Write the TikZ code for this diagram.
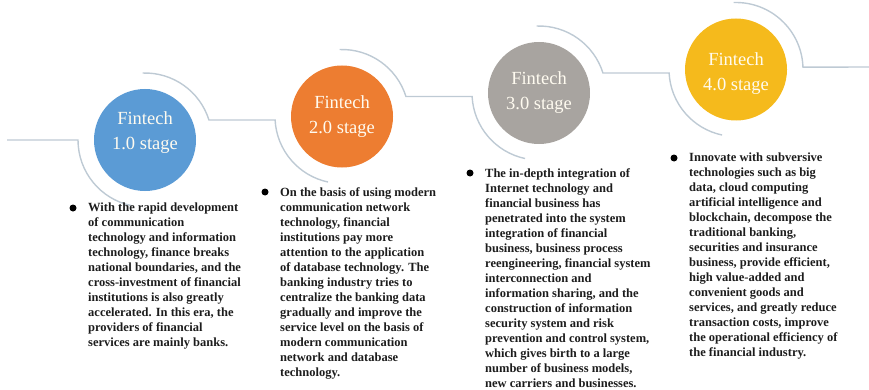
\documentclass[tikz,border=0pt]{standalone}
\usepackage{fontspec}
\setmainfont{Liberation Serif}
\usetikzlibrary{calc}
\definecolor{stblue}{RGB}{91,155,213}
\definecolor{storange}{RGB}{237,125,49}
\definecolor{stgray}{RGB}{168,164,160}
\definecolor{styellow}{RGB}{245,186,28}
\definecolor{trackcol}{RGB}{190,202,212}
\definecolor{txtcol}{RGB}{28,28,28}
\definecolor{captcol}{RGB}{255,251,240}
\begin{document}
\begin{tikzpicture}[x=1pt,y=1pt,
    stage/.style={circle,minimum size=102pt,inner sep=0pt,align=center,
      text=captcol,font=\fontsize{18.5}{25}\selectfont},
    track/.style={draw=trackcol,line width=1.4pt},
    desc/.style={anchor=north west,inner sep=0pt,align=left,text=txtcol,
      font=\fontsize{12.5}{15}\selectfont\bfseries},
    bulletdot/.style={circle,fill=black,inner sep=0pt,minimum size=7pt}]
  \useasboundingbox (0,0) rectangle (869,389);
  % the four stages
  \node[stage,fill=stblue]   (st1) at (145,249)   {Fintech\\1.0 stage\\[-6pt]};
  \node[stage,fill=storange] (st2) at (342,272.5) {Fintech\\2.0 stage};
  \node[stage,fill=stgray]   (st3) at (539,296)   {Fintech\\3.0 stage};
  \node[stage,fill=styellow] (st4) at (736,319.5) {\\[-5pt]Fintech\\4.0 stage};
  % track through the stages
  \coordinate (tin) at (7,249);
  \coordinate (tout) at (869,322);
  \draw[track] (tin) -- ($(st1.center)+(180:67)$) arc[start angle=180,end angle=258,radius=67];
  \foreach \a/\b in {st1/st2,st2/st3,st3/st4}
    \draw[track] ($(\a.center)+(92:67)$) arc[start angle=92,end angle=17.4,radius=67]
      -- ($(\b.center)+(183:67)$) arc[start angle=183,end angle=258,radius=67];
  \draw[track] ($(st4.center)+(92:67)$) arc[start angle=92,end angle=2,radius=67] -- (tout);
  % descriptions
  \node[desc] (desc1) at (88,186) {With the rapid development\\of communication\\technology and information\\technology, finance breaks\\national boundaries, and the\\cross-investment of financial\\institutions is also greatly\\accelerated. In this era, the\\providers of financial\\services are mainly banks.};
  \node[desc] (desc2) at (280,202) {On the basis of using modern\\communication network\\technology, financial\\institutions pay more\\attention to the application\\of database technology. The\\banking industry tries to\\centralize the banking data\\gradually and improve the\\service level on the basis of\\modern communication\\network and database\\technology.};
  \node[desc] (desc3) at (485,221) {The in-depth integration of\\Internet technology and\\financial business has\\penetrated into the system\\integration of financial\\business, business process\\reengineering, financial system\\interconnection and\\information sharing, and the\\construction of information\\security system and risk\\prevention and control system,\\which gives birth to a large\\number of business models,\\new carriers and businesses.};
  \node[desc] (desc4) at (689,236) {Innovate with subversive\\technologies such as big\\data, cloud computing\\artificial intelligence and\\blockchain, decompose the\\traditional banking,\\securities and insurance\\business, provide efficient,\\high value-added and\\convenient goods and\\services, and greatly reduce\\transaction costs, improve\\the operational efficiency of\\the financial industry.};
  \foreach \i in {1,...,4}
    \node[bulletdot] (dot\i) at ([shift={(-15,-5)}]desc\i.north west) {};
\end{tikzpicture}
\end{document}
